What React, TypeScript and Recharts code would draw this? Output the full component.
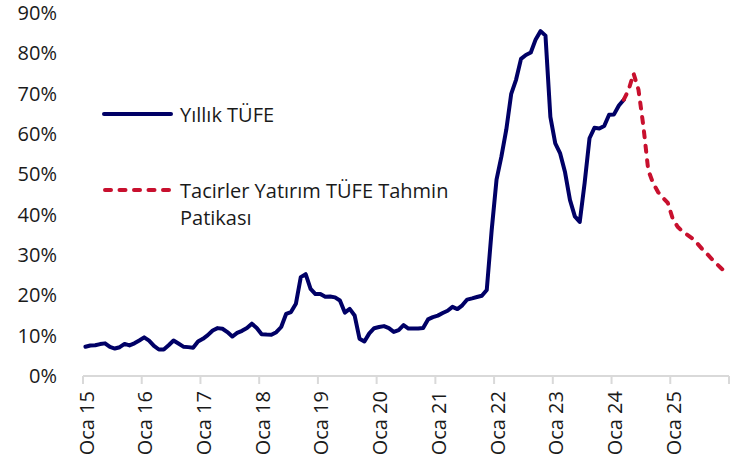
import React from 'react';
import { LineChart, Line, XAxis, YAxis, Legend } from 'recharts';

const NAVY = '#000066';
const RED = '#C8102E';
const AXIS_GRAY = '#d9d9d9';
const TEXT = '#1a1a1a';
const FONT = "'Open Sans', 'Noto Sans', sans-serif";

// Year labels for the January ticks (Oca = Ocak / January)
const yearLabels = ['Oca 15', 'Oca 16', 'Oca 17', 'Oca 18', 'Oca 19', 'Oca 20', 'Oca 21', 'Oca 22', 'Oca 23', 'Oca 24', 'Oca 25'];

// Yıllık TÜFE, monthly, Jan 2015 – Mar 2024 (%)
const actualCPI = [
  7.24, 7.55, 7.61, 7.91, 8.09, 7.2, 6.81, 7.14, 7.95, 7.58, 8.1, 8.81,
  9.58, 8.78, 7.46, 6.57, 6.58, 7.64, 8.79, 8.05, 7.28, 7.16, 7.0, 8.53,
  9.22, 10.13, 11.29, 11.87, 11.72, 10.9, 9.79, 10.68, 11.2, 11.9, 12.98, 11.92,
  10.35, 10.26, 10.23, 10.85, 12.15, 15.39, 15.85, 17.9, 24.52, 25.24, 21.62, 20.3,
  20.35, 19.67, 19.71, 19.5, 18.71, 15.72, 16.65, 15.01, 9.26, 8.55, 10.56, 11.84,
  12.15, 12.37, 11.86, 10.94, 11.39, 12.62, 11.76, 11.77, 11.75, 11.89, 14.03, 14.6,
  14.97, 15.61, 16.19, 17.14, 16.59, 17.53, 18.95, 19.25, 19.58, 19.89, 21.31, 36.08,
  48.69, 54.44, 61.14, 69.97, 73.5, 78.62, 79.6, 80.21, 83.45, 85.51, 84.39, 64.27,
  57.68, 55.18, 50.51, 43.68, 39.59, 38.21, 47.83, 58.94, 61.53, 61.36, 61.98, 64.77,
  64.86, 67.07, 68.5,
];

// Tacirler Yatırım forecast path, Mar 2024 – Dec 2025 (%)
const forecastCPI = [
  68.5, 71.0, 75.0, 71.0, 62.0, 51.0, 47.8, 45.6, 44.2, 42.9,
  39.0, 37.0, 35.8, 35.0, 34.1, 32.9, 31.5, 30.3, 29.0, 27.8, 26.6, 25.5,
];

const yTicks = [0, 10, 20, 30, 40, 50, 60, 70, 80, 90];
const seriesNames = ['Yıllık TÜFE', 'Tacirler Yatırım TÜFE Tahmin Patikası'];
const legendLines = [['Yıllık TÜFE'], ['Tacirler Yatırım TÜFE Tahmin', 'Patikası']];

const MONTHS = 132;
const forecastStart = actualCPI.length - 1;

const data = Array.from({ length: MONTHS }, (_, i) => ({
  idx: i,
  actual: i < actualCPI.length ? actualCPI[i] : null,
  forecast:
    i >= forecastStart && i - forecastStart < forecastCPI.length ? forecastCPI[i - forecastStart] : null,
}));

const xTicks = Array.from({ length: yearLabels.length + 1 }, (_, k) => k * 12 - 0.5);

const XTick = (props: any) => {
  const { x, y, payload } = props;
  const k = Math.round((payload.value + 0.5) / 12);
  const label = yearLabels[k];
  if (!label) return null;
  const cx = x + 3;
  return (
    <text
      x={cx}
      y={y}
      transform={`rotate(-90 ${cx} ${y})`}
      textAnchor="end"
      dominantBaseline="central"
      fill={TEXT}
      fontSize={20}
      fontFamily={FONT}
    >
      {label}
    </text>
  );
};

const LegendContent = () => (
  <svg width={480} height={240} style={{ display: 'block', overflow: 'visible' }}>
    <line x1={104} y1={114} x2={171} y2={114} stroke={NAVY} strokeWidth={4} strokeLinecap="round" />
    <text x={180} y={114} dominantBaseline="central" fill={TEXT} fontSize={20} fontFamily={FONT}>
      {legendLines[0][0]}
    </text>
    <line
      x1={105}
      y1={190}
      x2={171}
      y2={190}
      stroke={RED}
      strokeWidth={4}
      strokeLinecap="round"
      strokeDasharray="6 8.5"
    />
    {legendLines[1].map((t, j) => (
      <text key={j} x={180} y={190 + j * 27} dominantBaseline="central" fill={TEXT} fontSize={20} fontFamily={FONT}>
        {t}
      </text>
    ))}
  </svg>
);

export default function App() {
  return (
    <div style={{ position: 'absolute', left: 0, top: 0, width: 746, height: 460, background: '#fff' }}>
      <LineChart width={746} height={460} data={data} margin={{ top: 13, right: 17, left: 0, bottom: 0 }}>
        <XAxis
          dataKey="idx"
          type="number"
          domain={[-0.5, MONTHS - 0.5]}
          ticks={xTicks}
          interval={0}
          allowDataOverflow
          height={84}
          axisLine={{ stroke: AXIS_GRAY, strokeWidth: 2 }}
          tickLine={{ stroke: AXIS_GRAY, strokeWidth: 2 }}
          tickSize={8}
          tickMargin={7}
          tick={<XTick />}
        />
        <YAxis
          type="number"
          domain={[0, 90]}
          ticks={yTicks}
          interval={0}
          width={83}
          axisLine={false}
          tickLine={false}
          tickSize={0}
          tickMargin={26}
          tickFormatter={(v: number) => `${v}%`}
          tick={{ fill: TEXT, fontSize: 20, fontFamily: FONT }}
        />
        <Legend
          layout="horizontal"
          verticalAlign="middle"
          align="center"
          content={<LegendContent />}
          wrapperStyle={{ left: 0, top: 0, width: 480, height: 240 }}
        />
        <Line
          name={seriesNames[0]}
          dataKey="actual"
          stroke={NAVY}
          strokeWidth={4}
          dot={false}
          activeDot={false}
          strokeLinejoin="round"
          strokeLinecap="round"
          connectNulls={false}
          isAnimationActive={false}
        />
        <Line
          name={seriesNames[1]}
          dataKey="forecast"
          stroke={RED}
          strokeWidth={4}
          strokeDasharray="6 8.5"
          strokeLinecap="round"
          strokeLinejoin="round"
          dot={false}
          activeDot={false}
          connectNulls={false}
          isAnimationActive={false}
        />
      </LineChart>
    </div>
  );
}
